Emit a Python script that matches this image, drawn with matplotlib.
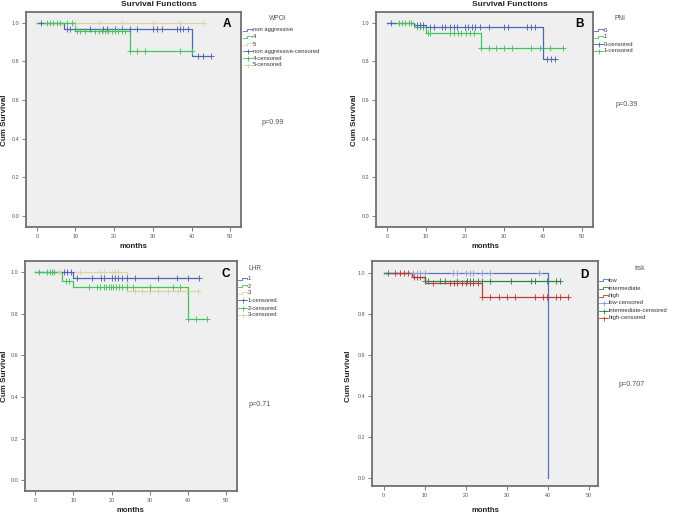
import matplotlib
matplotlib.use("Agg")
import matplotlib.pyplot as plt
from matplotlib.lines import Line2D
import numpy as np

plt.rcParams['font.family'] = ['Liberation Sans', 'DejaVu Sans']

# ---------------- DATA ----------------
x_ticks = [0, 10, 20, 30, 40, 50]
y_ticks = [0.0, 0.2, 0.4, 0.6, 0.8, 1.0]

# Panel A : WPOI
A_labels = ["non aggressive", "4", "5"]
A_nonagg_event_t = [7, 40]
A_nonagg_surv = [0.967, 0.829]
A_nonagg_cens = [1, 7.8, 8.6, 13.8, 17.2, 18.1, 20.2, 22, 24.1, 25.8, 30.1, 31, 32.3,
                 36.2, 37, 37.9, 39.2, 41.7, 43, 45]
A_nonagg_end = 45
A_g4_event_t = [10, 24]
A_g4_surv = [0.958, 0.853]
A_g4_cens = [2.6, 3.5, 4.3, 5.1, 6, 7.8, 9, 10.3, 11.2, 12.5, 15.1, 16, 16.8, 17.7, 18.5,
             19.4, 20.3, 21.1, 22, 22.9, 24, 26, 28, 37, 40]
A_g4_end = 40
A_g5_event_t = []
A_g5_surv = []
A_g5_cens = [10, 16, 22, 30, 37, 43]
A_g5_end = 43
A_p = "p=0.99"

# Panel B : PNI
B_labels = ["0", "1"]
B_0_event_t = [7, 10, 40]
B_0_surv = [0.988, 0.975, 0.812]
B_0_cens = [1, 7.7, 8.5, 9.2, 11.1, 12.1, 14.1, 15, 16.2, 17.1, 17.9, 20.1, 20.9, 21.8,
            22.6, 23.9, 26.1, 29.9, 30.9, 35.9, 36.9, 38, 41, 42, 43]
B_0_end = 43
B_1_event_t = [7, 10, 24]
B_1_surv = [0.979, 0.947, 0.869]
B_1_cens = [3, 3.8, 4.7, 5.6, 6.2, 7.7, 8.5, 9.2, 10.4, 11.1, 16.1, 17.1, 18.1, 19.1,
            20.2, 21.2, 22.2, 24.1, 26.1, 28, 29.9, 32, 36.8, 39.3, 41.9, 45]
B_1_end = 45
B_p = "p=0.39"

# Panel C : LHR
C_labels = ["1", "2", "3"]
C_1_event_t = [10]
C_1_surv = [0.970]
C_1_cens = [7.4, 8.3, 9.3, 10.9, 14.8, 17.2, 18.1, 20.1, 20.9, 21.8, 22.7, 24, 26.2,
            32.3, 37.1, 40.1, 43]
C_1_end = 43
C_2_event_t = [7, 10, 40]
C_2_surv = [0.957, 0.930, 0.776]
C_2_cens = [1, 3, 3.9, 4.4, 4.8, 8.1, 8.9, 14.2, 16.1, 17, 17.9, 18.6, 19.2, 19.8, 20.5,
            21.2, 21.9, 22.7, 24, 25.7, 30.1, 36, 38, 40.1, 42.1, 45]
C_2_end = 45
C_3_event_t = [24]
C_3_surv = [0.910]
C_3_cens = [6.4, 11.8, 17, 17.9, 20.1, 20.9, 21.8, 26.2, 27.9, 30.1, 32.3, 34.9, 37.5,
            39.7, 42.7]
C_3_end = 43
C_p = "p=0.71"

# Panel D : risk
D_labels = ["low", "intermediate", "high"]
D_low_event_t = [40]
D_low_surv = [0.0]
D_low_cens = [7.1, 8.1, 9, 10.1, 16.9, 17.9, 20, 21, 21.9, 24, 26, 37.9]
D_low_end = 40
D_int_event_t = [7, 10]
D_int_surv = [0.982, 0.963]
D_int_cens = [1, 10.1, 10.9, 13.7, 14.9, 17.9, 20.2, 21, 21.9, 23, 24, 26, 31, 35.9,
              36.9, 39.9, 41.9, 42.9]
D_int_end = 43
D_high_event_t = [7, 10, 24]
D_high_surv = [0.980, 0.953, 0.886]
D_high_cens = [2.8, 4, 5, 6, 7.5, 8.1, 9, 12, 16.1, 17.1, 17.9, 19, 20, 21, 21.9, 23, 24,
               26, 28.1, 30, 32, 36.9, 38.9, 39.9, 41.9, 42.9, 45]
D_high_end = 45
D_p = "p=0.707"

# ---------------- STYLE ----------------
W, H = 677, 516
BLUE = "#5064b4"
GREEN = "#44c25e"
TAN = "#dbd2a4"
D_BLUE = "#5a6cbc"
D_BLUE_M = "#8d9bdc"
D_GREEN = "#2f8050"
D_RED = "#bb3a3a"
BG = "#efefef"
SPINE = "#6f6f6f"
TXT = "#555555"

fig = plt.figure(figsize=(W / 100, H / 100), dpi=100)
fig.patch.set_facecolor("white")


def fx(px):
    return px / W


def fy(py):
    return 1 - py / H


def make_ax(x0, y0, x1, y1, xlim, ylim):
    ax = fig.add_axes([fx(x0), fy(y1), fx(x1) - fx(x0), fy(y0) - fy(y1)])
    ax.set_facecolor(BG)
    ax.set_xlim(*xlim)
    ax.set_ylim(*ylim)
    ax.set_xticks(x_ticks)
    ax.set_yticks(y_ticks)
    ax.set_xticklabels([str(t) for t in x_ticks])
    ax.set_yticklabels([f"{t:.1f}" for t in y_ticks])
    ax.tick_params(length=3, width=0.6, color="#666666", labelsize=3.9,
                   labelcolor=TXT, pad=2)
    for s in ax.spines.values():
        s.set_color(SPINE)
        s.set_linewidth(1.3)
    return ax


def km(ax, event_t, surv, cens, end, color, mcolor=None, lw=0.9):
    t = [0] + list(event_t) + [end]
    s = [1.0] + list(surv) + [list(surv)[-1] if surv else 1.0]
    ax.step(t, s, where="post", color=color, lw=lw, zorder=3)
    ev = np.array([0] + list(event_t))
    lv = np.array([1.0] + list(surv))
    cy = [lv[np.searchsorted(ev, c, side="right") - 1] for c in cens]
    ax.plot(cens, cy, ls="none", marker="+", ms=3.8, mew=0.65,
            color=mcolor or color, zorder=4)


def legend(title, title_xy, entries, x_icon, ys, fs=4.2):
    fig.text(fx(title_xy[0]), fy(title_xy[1]), title, ha="center", va="center",
             fontsize=fs + 0.6, color=TXT)
    for (label, kind, color), y in zip(entries, ys):
        if kind == "line":
            xs = [x_icon, x_icon + 4, x_icon + 4, x_icon + 9, x_icon + 9]
            yy = [y + 1.3, y + 1.3, y - 1.3, y - 1.3, y]
            fig.add_artist(Line2D([fx(v) for v in xs], [fy(v) for v in yy],
                                  color=color, lw=0.6, transform=fig.transFigure))
        else:
            fig.add_artist(Line2D([fx(x_icon), fx(x_icon + 9)], [fy(y), fy(y)],
                                  color=color, lw=0.6, transform=fig.transFigure))
            fig.add_artist(Line2D([fx(x_icon + 4.5)], [fy(y)], color=color, ls="none",
                                  marker="+", ms=3.6, mew=0.6,
                                  transform=fig.transFigure))
        fig.text(fx(x_icon + 10), fy(y), label, ha="left", va="center",
                 fontsize=fs, color="#333333")


def labels(ax_xc, months_y, cum_x, cum_yc):
    fig.text(fx(ax_xc), fy(months_y), "months", ha="center", va="center",
             fontsize=5.6, fontweight="bold", color="#222222")
    fig.text(fx(cum_x), fy(cum_yc), "Cum Survival", ha="center", va="center",
             rotation=90, fontsize=5.8, fontweight="bold", color="#222222")


# ---------------- Panel A ----------------
axA = make_ax(26, 12, 241, 227, (-2.8, 52.8), (-0.057, 1.055))
km(axA, A_g5_event_t, A_g5_surv, A_g5_cens, A_g5_end, TAN)
km(axA, A_nonagg_event_t, A_nonagg_surv, A_nonagg_cens, A_nonagg_end, BLUE)
km(axA, A_g4_event_t, A_g4_surv, A_g4_cens, A_g4_end, GREEN)
fig.text(fx(159), fy(5), "Survival Functions", ha="center", va="center",
         fontsize=6, fontweight="bold", color="#222222")
fig.text(fx(227), fy(24), "A", ha="center", va="center", fontsize=8.5,
         fontweight="bold", color="black")
fig.text(fx(273), fy(122), A_p, ha="center", va="center", fontsize=5.2, color=TXT)
legend("WPOI", (278, 18),
       [(A_labels[0], "line", BLUE), (A_labels[1], "line", GREEN), (A_labels[2], "line", TAN),
        (A_labels[0] + "-censored", "cens", BLUE), (A_labels[1] + "-censored", "cens", GREEN),
        (A_labels[2] + "-censored", "cens", TAN)],
       243, [30, 37, 44, 51, 58, 65])
labels(133, 247, 5, 120)

# ---------------- Panel B ----------------
axB = make_ax(376, 12, 593, 227, (-2.8, 52.8), (-0.057, 1.055))
km(axB, B_1_event_t, B_1_surv, B_1_cens, B_1_end, GREEN)
km(axB, B_0_event_t, B_0_surv, B_0_cens, B_0_end, BLUE)
fig.text(fx(510), fy(5), "Survival Functions", ha="center", va="center",
         fontsize=6, fontweight="bold", color="#222222")
fig.text(fx(580), fy(24), "B", ha="center", va="center", fontsize=8.5,
         fontweight="bold", color="black")
fig.text(fx(627), fy(105), B_p, ha="center", va="center", fontsize=5.2, color=TXT)
legend("PNI", (620, 18),
       [(B_labels[0], "line", BLUE), (B_labels[1], "line", GREEN),
        (B_labels[0] + "-censored", "cens", BLUE), (B_labels[1] + "-censored", "cens", GREEN)],
       594, [30, 37, 44, 51])
labels(485, 247, 355, 120)

# ---------------- Panel C ----------------
axC = make_ax(25, 261, 237, 491, (-2.7, 52.9), (-0.052, 1.053))
km(axC, C_3_event_t, C_3_surv, C_3_cens, C_3_end, TAN)
km(axC, C_1_event_t, C_1_surv, C_1_cens, C_1_end, BLUE)
km(axC, C_2_event_t, C_2_surv, C_2_cens, C_2_end, GREEN)
fig.text(fx(226), fy(274), "C", ha="center", va="center", fontsize=8.5,
         fontweight="bold", color="black")
fig.text(fx(260), fy(405), C_p, ha="center", va="center", fontsize=5.2, color=TXT)
legend("LHR", (255, 268),
       [(C_labels[0], "line", BLUE), (C_labels[1], "line", GREEN), (C_labels[2], "line", TAN),
        (C_labels[0] + "-censored", "cens", BLUE), (C_labels[1] + "-censored", "cens", GREEN),
        (C_labels[2] + "-censored", "cens", TAN)],
       238, [279, 286, 293, 300, 308, 315])
labels(130, 511, 5, 376)

# ---------------- Panel D ----------------
axD = make_ax(372, 261, 598, 486, (-2.8, 52.2), (-0.037, 1.06))
km(axD, D_int_event_t, D_int_surv, D_int_cens, D_int_end, D_GREEN)
km(axD, D_high_event_t, D_high_surv, D_high_cens, D_high_end, D_RED)
km(axD, D_low_event_t, D_low_surv, D_low_cens, D_low_end, D_BLUE, mcolor=D_BLUE_M)
fig.text(fx(584), fy(275), "D", ha="center", va="center", fontsize=8.5,
         fontweight="bold", color="black")
fig.text(fx(632), fy(384), D_p, ha="center", va="center", fontsize=5.2, color=TXT)
legend("risk", (640, 269),
       [(D_labels[0], "line", D_BLUE), (D_labels[1], "line", D_GREEN), (D_labels[2], "line", D_RED),
        (D_labels[0] + "-censored", "cens", D_BLUE_M), (D_labels[1] + "-censored", "cens", D_GREEN),
        (D_labels[2] + "-censored", "cens", D_RED)],
       599, [280, 288, 296, 303, 311, 318])
labels(485, 511, 349, 376)

fig.savefig("out.png", dpi=100, facecolor="white")
